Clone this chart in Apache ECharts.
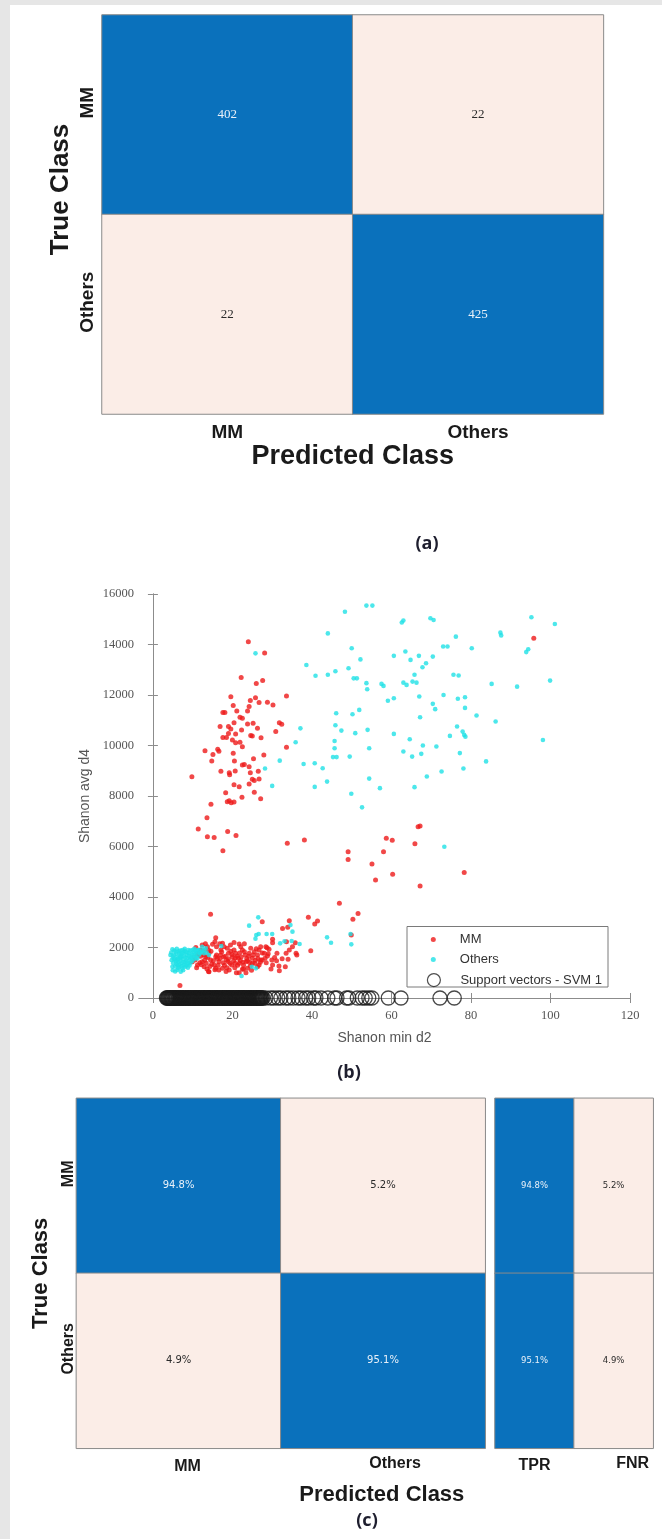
<!DOCTYPE html>
<html><head><meta charset="utf-8">
<script src="https://cdn.jsdelivr.net/npm/echarts@6/dist/echarts.min.js"></script>
<style>
html,body{margin:0;padding:0;background:#e6e6e6;width:662px;height:1539px;overflow:hidden;}
#bg{position:absolute;left:10px;top:5px;width:652px;height:1534px;background:#fff;}
#chart{position:absolute;left:0;top:0;width:662px;height:1539px;}
</style></head><body>
<div id="bg"></div><div id="chart"></div>
<script>
// ---------- data ----------
const classes = ['MM', 'Others'];
const countMatrix = [[402, 22], [22, 425]];        // rows: true class, cols: predicted
const pctMatrix = [[94.8, 5.2], [4.9, 95.1]];
const rateLabels = ['TPR', 'FNR'];
const rateMatrix = [[94.8, 5.2], [95.1, 4.9]];
const xTicks = [0, 20, 40, 60, 80, 100, 120];

const mmPoints = [
[24.0,14110],[28.1,13660],[22.2,12690],[26.0,12460],[27.6,12570],[19.6,11930],[25.8,11890],[24.5,11780],[26.7,11700],[28.8,11710],
[30.2,11600],[33.6,11960],[20.2,11580],[21.1,11370],[24.2,11540],[23.8,11370],[17.6,11310],[18.1,11310],[21.9,11120],[22.5,11080],
[20.4,10900],[23.8,10850],[25.2,10880],[16.9,10750],[19.0,10750],[19.6,10650],[26.3,10680],[31.8,10900],[32.4,10840],[22.3,10610],
[19.0,10480],[20.8,10460],[17.6,10320],[18.5,10320],[24.6,10400],[25.0,10380],[30.9,10550],[27.2,10310],[20.0,10220],[20.8,10110],
[21.9,10130],[22.5,9950],[33.6,9930],[13.1,9790],[16.3,9850],[16.6,9770],[15.1,9640],[14.8,9390],[20.2,9690],[20.5,9390],
[25.3,9480],[27.9,9620],[22.5,9230],[23.0,9250],[24.2,9160],[17.1,8980],[19.2,8920],[19.3,8840],[20.7,8990],[24.5,8920],
[26.5,8980],[25.0,8660],[25.5,8610],[26.7,8670],[24.2,8480],[20.4,8450],[21.7,8370],[25.5,8150],[18.3,8130],[22.4,7950],
[27.1,7890],[14.6,7670],[18.7,7770],[19.2,7810],[19.7,7730],[20.4,7760],[13.6,7140],[11.4,6690],[13.7,6390],[15.4,6360],
[18.8,6590],[20.9,6440],[17.6,5830],[33.8,6130],[38.1,6260],[9.8,8760],
[49.1,5795],[49.1,5490],[55.1,5306],[56.0,4673],[58.0,5795],[58.7,6323],[60.2,6245],[60.3,4897],[65.9,6112],[66.7,6785],
[67.2,6810],[67.2,4435],[78.3,4975],[95.8,14250],
[14.5,3313],[27.5,3023],[32.6,2750],[34.3,3060],[39.1,3195],[40.7,2930],[41.4,3050],[46.9,3750],[50.3,3115],[51.6,3350],
[49.9,2495],[39.7,1874],[33.6,2230],[35.8,2190],[36.2,1700],[34.0,1530],[30.1,2323],[28.7,1993],[29.2,1927],[27.5,1505],
[31.7,1267],[29.7,1148],[6.8,500],[33.9,2800],[31.2,1770],[31.1,1477],[30.1,1307],[27.1,1505],[28.8,1663],[28.0,1770],
[24.2,1770],[21.7,2138],[22.1,2032],[25.0,1570],[26.3,1703],[23.4,1438],[25.0,1374],[26.3,1240],[22.5,1135],[21.7,1003],
[20.7,1374],[19.0,1770],[17.9,2032],[17.1,1900],[16.0,2032],[15.0,2125],[13.7,2032],[12.4,2099],[12.0,1900],[11.2,1703],
[10.6,1505],[11.2,1307],[12.4,1438],[13.3,1636],[14.1,1770],[14.5,1505],[14.1,1043],[15.4,1307],[15.8,1636],[16.6,1438],
[17.5,1175],[18.5,1505],[19.2,1109],[20.0,1636],[20.4,1900],[20.8,1770],[21.5,1570],[22.5,1900],[23.2,1703],[23.8,1175],
[24.6,1966],[25.5,1834],[26.7,1900],[27.1,2032],[28.2,1570],[29.9,1505],[31.8,1082],[30.1,2191],[28.4,2032],[26.7,1307],
[21.7,1374],[19.8,1307],[16.6,1109],[15.8,1175],[12.9,1240],[11.8,1400],[9.9,1438],[10.3,1610],[11.6,1795],[12.9,1874],
[15.6,2230],[17.5,2165],[18.7,1966],[33.3,1240],[33.5,1770],[34.3,1900],[36.0,1770],[35.1,2032],[15.8,2390],
[13.0,1500],[14.8,1350],[16.2,1560],[17.0,1700],[18.0,1300],[18.9,1450],[19.6,1850],[20.6,1200],[21.2,1650],[22.0,1480],
[22.8,1300],[23.6,1560],[24.3,1420],[24.8,1100],[25.8,1500],[26.0,1950],[27.5,1780],[10.8,2000],[11.0,1200],[13.6,1150],
[19.5,2100],[23.0,2150],[14.0,1900],[12.0,1650],[17.8,1620],[21.0,1000],[23.4,1000],
[12.2,1320],[12.8,1700],[13.4,1380],[13.8,1600],[14.3,1250],[14.6,1850],[15.2,1480],[15.6,1120],[16.0,1700],[16.4,1300],
[16.9,1560],[17.3,1820],[17.7,1400],[18.2,1650],[18.6,1200],[19.0,1550],[19.4,1380],[19.9,1720],[20.3,1480],[20.7,1580],
[21.3,1300],[21.8,1780],[22.2,1620],[22.6,1420],[23.0,1830],[23.8,1480],[24.1,1650],[24.5,1270],[25.2,1700],[25.6,1380],
[26.4,1560],[27.0,1420],[28.5,1400],[29.0,1750],[30.6,1600],[32.5,1550],[14.0,1050],[18.4,1050],[22.8,1150],[16.8,2150],
[13.2,2150],[20.4,2200]
];

const othersPoints = [
[25.8,13650],[28.2,9090],[30.0,8400],[31.9,9400],[35.9,10130],[37.1,10680],[37.9,9270],[38.6,13190],[40.7,9300],[40.9,12760],
[40.7,8360],[42.7,9100],[43.8,8570],[44.0,14440],[44.0,12800],[45.9,12940],[45.3,9540],[46.2,9540],[45.7,10180],[45.9,10800],
[46.1,11280],[47.4,10590],[45.7,9890],[48.3,15300],[49.2,13060],[50.0,13850],[50.5,12660],[51.3,12660],[50.2,11240],[50.9,10490],
[49.5,9560],[49.9,8090],[51.9,11410],[52.2,13410],[52.6,7550],[53.7,15540],[55.2,15540],[53.7,12470],[53.9,12230],[54.0,10620],
[54.4,9890],[54.4,8690],[57.1,8310],[57.5,12440],[58.0,12360],[59.1,11770],[60.6,11870],[60.6,13550],[60.6,10460],[62.6,14870],
[63.0,14950],[63.5,13720],[63.0,12490],[63.8,12400],[64.6,10250],[63.0,9760],[64.8,13390],[65.2,9560],[65.8,12800],[65.3,12530],
[66.3,12490],[65.8,8350],[66.9,13550],[67.8,13100],[68.7,13260],[67.0,11940],[67.2,11120],[67.5,9670],[67.9,10000],[68.9,8770],
[69.8,15040],[70.6,14970],[70.4,13520],[70.4,11650],[71.0,11440],[71.3,9960],[72.6,8970],[73.0,13920],[74.1,13920],[73.1,12000],
[74.7,10380],[76.2,14310],[75.6,12800],[76.9,12770],[76.5,10750],[76.7,11850],[77.2,9700],[77.9,10550],[78.3,10420],[78.5,11910],
[78.5,11490],[78.1,9090],[78.6,10350],[80.2,13850],[81.4,11190],[83.8,9370],[85.2,12440],[86.2,10950],[87.4,14470],[87.6,14360],
[91.6,12330],[93.9,13700],[94.4,13810],[95.2,15080],[98.1,10220],[99.9,12570],[101.1,14810],[73.3,5990],
[24.2,2865],[26.5,3195],[25.8,2350],[26.6,2535],[28.6,2535],[30.0,2535],[32.0,2165],[33.1,2245],[34.6,2890],[35.1,2627],
[34.9,2257],[36.9,2138],[43.8,2402],[44.8,2191],[49.7,2534],[49.9,2125],[22.3,870],[24.9,1240],[26.0,2495],[25.9,1175],
[17.2,2060],
[4.9,1927],[5.7,1834],[6.6,1770],[7.4,1900],[8.2,1834],[9.1,1770],[9.9,1900],[10.8,1834],[11.6,1900],[12.9,1770],
[14.1,1703],[6.1,1636],[7.0,1570],[7.8,1675],[8.6,1570],[9.5,1636],[10.3,1532],[6.4,1438],[7.2,1374],[8.1,1438],
[8.9,1346],[6.6,1240],[7.4,1175],[6.1,1109],[7.0,1043],[5.3,1703],[5.5,1532],[5.9,1346],[4.9,1240],[8.2,1240],
[9.5,1398],[11.2,1570],[13.3,1966],[12.4,2032],
[5.0,1650],[5.8,1450],[6.8,1880],[7.6,1800],[8.5,1700],[9.2,1500],[10.0,1700],[10.6,1650],[11.0,1800],[6.2,1300],
[7.8,1300],[8.8,1200],[7.0,1720],[9.8,1600],[4.6,1800],[5.2,1550],[6.0,1950],[8.0,1950],[9.4,1880],[10.4,1950],
[12.0,1800],[11.5,1700],[12.8,1900],[13.5,1800],
[4.4,1700],[4.7,1500],[5.1,1380],[5.4,1880],[5.6,1250],[5.9,1750],[6.3,1560],[6.5,1850],[6.7,1330],[6.9,1480],
[7.1,1650],[7.3,1260],[7.5,1540],[7.7,1420],[7.9,1870],[8.1,1600],[8.4,1480],[8.6,1800],[8.7,1380],[9.0,1660],
[9.2,1290],[9.4,1560],[9.7,1760],[9.9,1470],[10.2,1820],[10.5,1700],[10.9,1580],[11.3,1900],[11.8,1760],[12.3,1850],
[5.0,1100],[5.6,1050],[6.4,1180],[7.6,1100],[8.3,1290],[6.0,1500],[6.8,1620],[7.4,1750],[8.9,1900],[10.6,1880]
];

const svX = [
3.4,3.55,3.7,3.85,4.0,4.15,4.35,4.5,4.65,4.8,4.95,5.1,5.3,5.45,5.6,
5.75,5.9,6.05,6.25,6.4,6.55,6.7,6.85,7.0,7.2,7.35,7.5,7.65,7.8,7.95,8.15,8.3,8.45,8.6,8.75,8.9,9.1,9.25,9.4,9.55,
9.7,9.85,10.05,10.2,10.35,10.5,10.65,10.8,11.0,11.15,11.3,11.45,11.6,11.75,11.95,12.1,12.25,12.4,12.55,12.7,12.9,
13.05,13.2,13.35,13.5,13.65,13.85,14.0,14.15,14.3,14.45,14.6,14.8,14.95,15.1,15.25,15.4,15.55,15.75,15.9,16.05,
16.2,16.35,16.5,16.7,16.85,17.0,17.15,17.3,17.45,17.65,17.8,17.95,18.1,18.25,18.4,18.6,18.75,18.9,19.05,19.2,19.35,
19.55,19.7,19.85,20.0,20.15,20.3,20.5,20.65,20.8,20.95,21.1,21.25,21.45,21.6,21.75,21.9,22.05,22.2,22.4,22.55,22.7,
22.85,23.0,23.15,23.35,23.5,23.65,23.8,23.95,24.1,24.3,24.45,24.6,24.75,24.9,25.05,25.25,25.4,25.55,25.7,25.85,26.0,
26.2,26.35,26.5,26.65,26.8,26.95,27.15,27.3,27.5,27.7,
28.4,29.6,30.4,31.4,32.2,33.4,34.2,35.3,36.5,37.3,38.4,39.2,40.4,41.0,42.3,44.0,45.7,46.3,48.7,49.3,51.4,52.6,53.4,
54.3,55.1,59.2,62.4,72.2,75.8
];

// ---------- helpers ----------
const BLUE = '#0a71bc', PINK = '#fbede7', BORDER = '#8a8a8a';
const SANS = 'Liberation Sans', SERIF = 'Liberation Serif';
function cells(matrix, isHigh) {
  const out = [];
  matrix.forEach((row, r) => row.forEach((v, c) => {
    const hi = isHigh(v, row);
    out.push({ value: [c, r, v], itemStyle: { color: hi ? BLUE : PINK },
      label: { color: hi ? '#e9f1f9' : '#2a2a2a' } });
  }));
  return out;
}
const byRow = (v, row) => v > row.reduce((a, b) => a + b, 0) / 2;
const byPct = v => v > 50;
const boldLbl = (size) => ({ fontFamily: SANS, fontWeight: 'bold', fontSize: size, color: '#1a1a1a' });
const legendText = (spacer) => ({
  formatter: name => '{s|}{t|' + name + '}',
  textStyle: { rich: { s: { width: spacer }, t: { fontSize: 13, color: '#333', fontFamily: SANS } } }
});

const chart = echarts.init(document.getElementById('chart'), null, { renderer: 'canvas' });
const option = {
  animation: false,
  textStyle: { fontFamily: SANS },
  grid: [
    { left: 102, right: 58.6, top: 15, bottom: 1125, outerBoundsMode: 'none' },
    { left: 139, right: 32, top: 594, bottom: 541, outerBoundsMode: 'none' },
    { left: 76.4, right: 176.8, top: 1098.3, bottom: 90.7, outerBoundsMode: 'none' },
    { left: 495, right: 8.8, top: 1098.3, bottom: 90.7, outerBoundsMode: 'none' }
  ],
  xAxis: [
    { type: 'category', gridIndex: 0, data: classes, axisLine: { show: false }, axisTick: { show: false },
      axisLabel: Object.assign(boldLbl(19), { margin: 9 }),
      name: 'Predicted Class', nameLocation: 'middle', nameGap: 29, nameTextStyle: boldLbl(27) },
    { type: 'value', gridIndex: 1, min: -3.5, max: 120, position: 'bottom',
      axisLine: { show: true, lineStyle: { color: '#8c8c8c', width: 1 } },
      axisTick: { show: true, inside: true, length: 5, customValues: xTicks, lineStyle: { color: '#8c8c8c' } },
      axisLabel: { customValues: xTicks, fontFamily: SERIF, fontSize: 12.5, color: '#555', margin: 11 },
      splitLine: { show: false },
      name: 'Shanon min d2', nameLocation: 'middle', nameGap: 33, nameTextStyle: { fontSize: 14, color: '#555', fontFamily: SANS } },
    { type: 'value', gridIndex: 1, min: -3.5, max: 120, position: 'top',
      axisLine: { show: true, lineStyle: { color: '#8c8c8c', width: 1 } },
      axisTick: { show: true, inside: true, length: 5, customValues: xTicks, lineStyle: { color: '#8c8c8c' } },
      axisLabel: { show: false }, splitLine: { show: false } },
    { type: 'category', gridIndex: 2,
      data: [{ value: 'MM', textStyle: { padding: [3, 0, 0, 18] } }, { value: 'Others', textStyle: { padding: [0, 0, 0, 24] } }],
      axisLine: { show: false }, axisTick: { show: false },
      axisLabel: Object.assign(boldLbl(16), { margin: 7 }),
      name: 'Predicted Class', nameLocation: 'middle', nameGap: 35.5,
      nameTextStyle: Object.assign(boldLbl(22), { padding: [0, 0, 0, 202] }) },
    { type: 'category', gridIndex: 3,
      data: [{ value: 'TPR', textStyle: { padding: [2, 0, 0, 0] } }, { value: 'FNR', textStyle: { padding: [0, 0, 0, 38] } }],
      axisLine: { show: false }, axisTick: { show: false },
      axisLabel: Object.assign(boldLbl(16), { margin: 7 }) }
  ],
  yAxis: [
    { type: 'category', gridIndex: 0, data: classes, inverse: true, axisLine: { show: false }, axisTick: { show: false },
      axisLabel: Object.assign(boldLbl(19), { rotate: 90, margin: 5, padding: [0, 0, 0, 24] }),
      name: 'True Class', nameLocation: 'middle', nameGap: 28, nameMoveOverlap: false,
      nameTextStyle: Object.assign(boldLbl(26), { padding: [0, 0, 0, 50] }) },
    { type: 'value', gridIndex: 1, min: 0, max: 16000, interval: 2000, position: 'left',
      axisLine: { show: true, lineStyle: { color: '#8c8c8c', width: 1 } },
      axisTick: { show: true, inside: true, length: 5, lineStyle: { color: '#8c8c8c' } },
      axisLabel: { fontFamily: SERIF, fontSize: 12.5, color: '#555', margin: 5, formatter: v => String(v) },
      splitLine: { show: false },
      name: 'Shanon avg d4', nameLocation: 'middle', nameGap: 32, nameTextStyle: { fontSize: 14, color: '#555', fontFamily: SANS } },
    { type: 'value', gridIndex: 1, min: 0, max: 16000, interval: 2000, position: 'right',
      axisLine: { show: true, lineStyle: { color: '#8c8c8c', width: 1 } },
      axisTick: { show: true, inside: true, length: 5, lineStyle: { color: '#8c8c8c' } },
      axisLabel: { show: false }, splitLine: { show: false } },
    { type: 'category', gridIndex: 2, data: classes, inverse: true, axisLine: { show: false }, axisTick: { show: false },
      axisLabel: Object.assign(boldLbl(16), { rotate: 90, margin: 0, padding: [0, 0, 0, 24] }),
      name: 'True Class', nameLocation: 'middle', nameGap: 24, nameTextStyle: boldLbl(22) },
    { type: 'category', gridIndex: 3, data: classes, inverse: true, show: false }
  ],
  legend: [
    Object.assign({ data: ['MM'], left: 430.8, top: 933, padding: 0, itemWidth: 5, itemHeight: 5, selectedMode: false }, legendText(19)),
    Object.assign({ data: ['Others'], left: 430.8, top: 953, padding: 0, itemWidth: 5, itemHeight: 5, selectedMode: false }, legendText(19)),
    Object.assign({ data: [{ name: 'Support vectors - SVM 1', itemStyle: { color: 'rgba(0,0,0,0)', borderColor: '#222', borderWidth: 1.2 } }],
      left: 426.8, top: 973, padding: 0, itemWidth: 13, itemHeight: 13, selectedMode: false }, legendText(15))
  ],
  graphic: [
    { type: 'rect', z: 3, shape: { x: 407, y: 926.5, width: 201, height: 60.5 },
      style: { fill: '#fff', stroke: '#7a7a7a', lineWidth: 1 } },
    { type: 'text', z: 5, x: 427, y: 544, style: { text: '(a)', font: 'bold 18px "Open Sans"', fill: '#1e1e2e', textAlign: 'center', textVerticalAlign: 'middle' } },
    { type: 'text', z: 5, x: 349, y: 1073, style: { text: '(b)', font: 'bold 18px "Open Sans"', fill: '#1e1e2e', textAlign: 'center', textVerticalAlign: 'middle' } },
    { type: 'text', z: 5, x: 367, y: 1521, style: { text: '(c)', font: 'bold 18px "Open Sans"', fill: '#1e1e2e', textAlign: 'center', textVerticalAlign: 'middle' } }
  ],
  series: [
    { type: 'heatmap', xAxisIndex: 0, yAxisIndex: 0, data: cells(countMatrix, byRow),
      itemStyle: { borderColor: BORDER, borderWidth: 1 },
      label: { show: true, fontFamily: SERIF, fontSize: 13, formatter: p => String(p.value[2]) },
      emphasis: { disabled: true } },
    { type: 'scatter', name: 'MM', xAxisIndex: 1, yAxisIndex: 1, data: mmPoints, symbolSize: 5,
      itemStyle: { color: '#ee1a1a' }, emphasis: { disabled: true } },
    { type: 'scatter', name: 'Others', xAxisIndex: 1, yAxisIndex: 1, data: othersPoints, symbolSize: 4.6,
      itemStyle: { color: '#1fe1e6' }, emphasis: { disabled: true } },
    { type: 'scatter', name: 'Support vectors - SVM 1', xAxisIndex: 1, yAxisIndex: 1, clip: false,
      data: svX.map(x => [x, 0]), symbol: 'circle', symbolSize: 14,
      itemStyle: { color: 'rgba(0,0,0,0)', borderColor: '#1a1a1a', borderWidth: 1.3 }, emphasis: { disabled: true } },
    { type: 'heatmap', xAxisIndex: 3, yAxisIndex: 3, data: cells(pctMatrix, byPct),
      itemStyle: { borderColor: BORDER, borderWidth: 1 },
      label: { show: true, fontFamily: 'DejaVu Sans', fontSize: 10, formatter: p => p.value[2].toFixed(1) + '%' },
      emphasis: { disabled: true } },
    { type: 'heatmap', xAxisIndex: 4, yAxisIndex: 4, data: cells(rateMatrix, byPct),
      itemStyle: { borderColor: BORDER, borderWidth: 1 },
      label: { show: true, fontFamily: 'DejaVu Sans', fontSize: 8.5, formatter: p => p.value[2].toFixed(1) + '%' },
      emphasis: { disabled: true } }
  ]
};
chart.setOption(option);
</script>
</body></html>
